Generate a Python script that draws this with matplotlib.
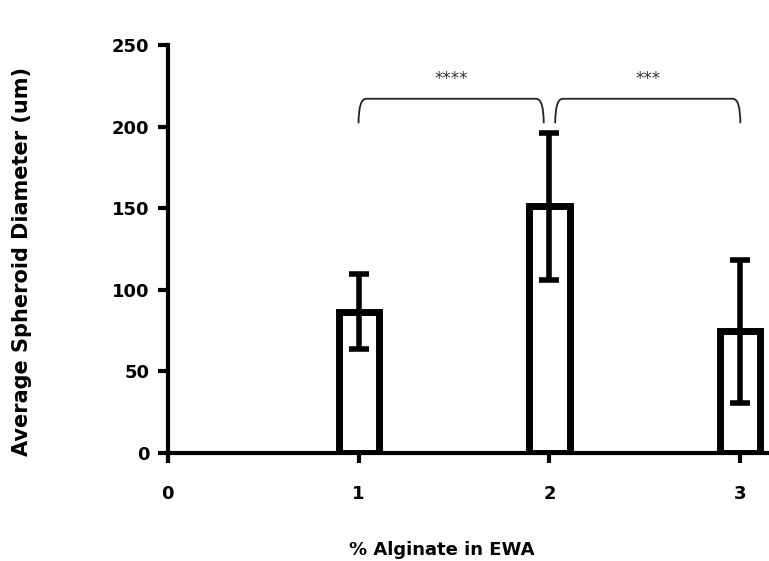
import numpy as np
import matplotlib.pyplot as plt
from matplotlib.path import Path
from matplotlib.patches import PathPatch

alginate = [1, 2, 3]
diametro = [86.5, 151, 74.5]
error = [23, 45, 44]
xtick_labels = ["0", "1", "2", "3"]
comparaciones = [(1, 2, "****"), (2, 3, "***")]
altura_corchete = 217
bajada = 15

fig = plt.figure(figsize=(7.69, 5.61), dpi=100)
ax = fig.add_axes([0.218, 0.1925, 0.782, 0.7275])

ax.bar(alginate, diametro, width=0.21, facecolor="white", edgecolor="black",
       linewidth=5, zorder=2)
ax.errorbar(alginate, diametro, yerr=error, fmt="none", ecolor="black",
            elinewidth=4, capsize=7, capthick=4, zorder=3)


def corchete(x1, x2, y, h, texto):
    r = 0.04  # radio de las esquinas
    verts = [(x1, y - h), (x1, y), (x1 + r, y), (x2 - r, y), (x2, y), (x2, y - h)]
    codes = [Path.MOVETO, Path.CURVE3, Path.CURVE3, Path.LINETO, Path.CURVE3, Path.CURVE3]
    ax.add_patch(PathPatch(Path(verts, codes), fill=False, lw=1.3, color="#222222",
                           clip_on=False))
    ax.text((x1 + x2) / 2, y + 12, texto, ha="center", va="center", fontsize=12,
            color="#333333")


for a, b, estrellas in comparaciones:
    corchete(a + (0.0 if a == 1 else 0.03), b - (0.03 if b == 2 else 0.0),
             altura_corchete, bajada, estrellas)

ax.set_xlim(0, 3.15)
ax.set_ylim(0, 250)
ax.set_xticks(range(len(xtick_labels)))
ax.set_xticklabels(xtick_labels)
ax.set_yticks([0, 50, 100, 150, 200, 250])

for s in ["top", "right"]:
    ax.spines[s].set_visible(False)
for s in ["left", "bottom"]:
    ax.spines[s].set_linewidth(3)

ax.tick_params(axis="both", width=3, length=7, labelsize=13, pad=6)
for lbl in ax.get_xticklabels() + ax.get_yticklabels():
    lbl.set_fontweight("bold")
ax.tick_params(axis="x", pad=16)

ax.set_ylabel("Average Spheroid Diameter (um)", fontsize=15, fontweight="bold")
ax.set_xlabel("% Alginate in EWA", fontsize=13, fontweight="bold")
ax.xaxis.set_label_coords(0.455, -0.215)
ax.yaxis.set_label_coords(-0.225, 0.47)

fig.savefig("out.png", dpi=100)
